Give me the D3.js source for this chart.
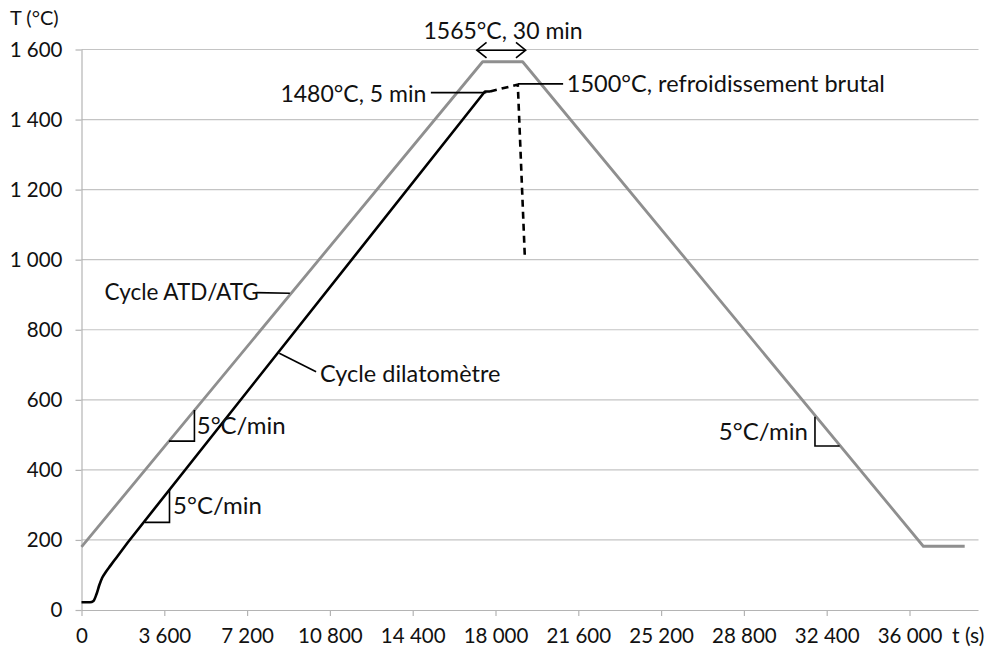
<!DOCTYPE html>
<html><head><meta charset="utf-8">
<script src="https://cdn.jsdelivr.net/npm/d3@7/dist/d3.min.js"></script>
<style>html,body{margin:0;padding:0;background:#fff;} svg{display:block;}</style>
</head><body>
<script>
// ---- data ----
const xTicks = [0, 3600, 7200, 10800, 14400, 18000, 21600, 25200, 28800, 32400, 36000];
const yTicks = [0, 200, 400, 600, 800, 1000, 1200, 1400, 1600];
const atdTime = [0, 17440, 19180, 36600, 38400];
const atdTemp = [180, 1565, 1565, 182, 182];
const dilStartTime = [0, 370, 520, 650, 780, 900, 1050, 1250, 1500, 2035];
const dilStartTemp = [22, 22, 26, 45, 72, 92, 108, 126, 148, 195];
const dilRampTime = [2035, 17540, 17760];
const dilRampTemp = [195, 1480, 1480];
const quenchTime = [17760, 18970, 19280];
const quenchTemp = [1480, 1500, 1000];

const W = 989, H = 656;
const FONT = "Lato, 'Open Sans', sans-serif";
const INK = "#111";
const svg = d3.select("body").append("svg").attr("width", W).attr("height", H)
  .style("font-family", FONT);

const x = d3.scaleLinear().domain([0, 39000]).range([81.5, 978.5]);
const y = d3.scaleLinear().domain([0, 1600]).range([610, 49.5]);
const fmt = v => v >= 1000 ? d3.format(",")(v).replace(/,/g, " ") : String(v);

// gridlines
svg.append("g").selectAll("line").data(yTicks.filter(v => v > 0)).join("line")
  .attr("x1", x(0)).attr("x2", x(39000)).attr("y1", d => y(d)).attr("y2", d => y(d))
  .attr("stroke", "#c4c4c4").attr("stroke-width", 1.2);

// axes
const yAxis = svg.append("g").attr("transform", `translate(${x(0)},0)`)
  .call(d3.axisLeft(y).tickValues(yTicks).tickFormat(fmt).tickSize(6).tickPadding(13));
const xAxis = svg.append("g").attr("transform", `translate(0,${y(0)})`)
  .call(d3.axisBottom(x).tickValues(xTicks).tickFormat(fmt).tickSize(6).tickPadding(12));
[yAxis, xAxis].forEach(g => {
  g.select(".domain").attr("stroke", "#b4b4b4").attr("stroke-width", 1.2);
  g.selectAll(".tick line").attr("stroke", "#b4b4b4").attr("stroke-width", 1.2);
  g.selectAll("text").attr("font-family", FONT).attr("font-size", 20.5).attr("fill", INK);
});
xAxis.select(".domain").attr("d", `M${x(0)},0.5H${x(39000)}`);
yAxis.select(".domain").attr("d", `M0.5,${y(0)}V${y(1600)}`);

// axis titles
svg.append("text").attr("x", 10).attr("y", 18).attr("dy", "0.35em")
  .attr("font-size", 20).attr("fill", INK).text("T (°C)");
svg.append("text").attr("x", 952).attr("y", 636).attr("dy", "0.35em")
  .attr("font-size", 21).attr("fill", INK).text("t (s)");

// series
const lin = d3.line().x(d => x(d[0])).y(d => y(d[1]));
const smooth = d3.line().x(d => x(d[0])).y(d => y(d[1])).curve(d3.curveMonotoneX);
svg.append("path").datum(d3.zip(atdTime, atdTemp))
  .attr("d", lin).attr("fill", "none").attr("stroke", "#8f8f8f").attr("stroke-width", 2.8)
  .attr("stroke-linejoin", "round");
const dilD = smooth(d3.zip(dilStartTime, dilStartTemp)) + lin(d3.zip(dilRampTime, dilRampTemp)).replace(/^M/, "L");
svg.append("path").attr("d", dilD).attr("fill", "none").attr("stroke", "#000")
  .attr("stroke-width", 2.6).attr("stroke-linejoin", "round");
svg.append("path").datum(d3.zip(quenchTime, quenchTemp))
  .attr("d", lin).attr("fill", "none").attr("stroke", "#000")
  .attr("stroke-width", 2.6).attr("stroke-dasharray", "7,5");

// ---- annotations (data units) ----
const ann = svg.append("g").attr("stroke", "#000").attr("fill", "none").attr("stroke-width", 1.6);
const seg = (a, b) => ann.append("line").attr("x1", x(a[0])).attr("y1", y(a[1])).attr("x2", x(b[0])).attr("y2", y(b[1]));
const poly = pts => ann.append("polyline").attr("points", pts.map(p => [x(p[0]), y(p[1])].join(",")).join(" "));
const label = (t, T, txt, anchor, size) => svg.append("text").attr("x", x(t)).attr("y", y(T))
  .attr("dy", "0.35em").attr("text-anchor", anchor || "start").attr("font-size", size || 23)
  .attr("fill", INK).text(txt);

// plateau double arrow
const arrY = 1598;
seg([17190, arrY], [19310, arrY]);
poly([[17190 + 420, arrY + 22], [17190, arrY], [17190 + 420, arrY - 22]]);
poly([[19310 - 420, arrY + 22], [19310, arrY], [19310 - 420, arrY - 22]]);
label(18330, 1652, "1565°C, 30 min", "middle", 23);

// 1480 leader
seg([15190, 1477], [17600, 1477]);
label(14990, 1474, "1480°C, 5 min", "end", 23);
// 1500 leader
seg([18980, 1502], [20940, 1502]);
label(21100, 1503, "1500°C, refroidissement brutal", "start", 23.5);

// series labels
seg([7600, 906], [9060, 904]);
label(1000, 906, "Cycle ATD/ATG", "start", 22.5);
seg([8600, 733], [10200, 680]);
label(10370, 673, "Cycle dilatomètre", "start", 23.5);

// slope triangles
poly([[3800, 482], [4910, 482], [4910, 571]]);
label(5010, 527, "5°C/min", "start", 24);
poly([[2760, 250], [3826, 250], [3826, 343]]);
label(3980, 297, "5°C/min", "start", 24);
poly([[31890, 552], [31890, 468], [32960, 468]]);
label(31580, 509, "5°C/min", "end", 24);
</script>
</body></html>
